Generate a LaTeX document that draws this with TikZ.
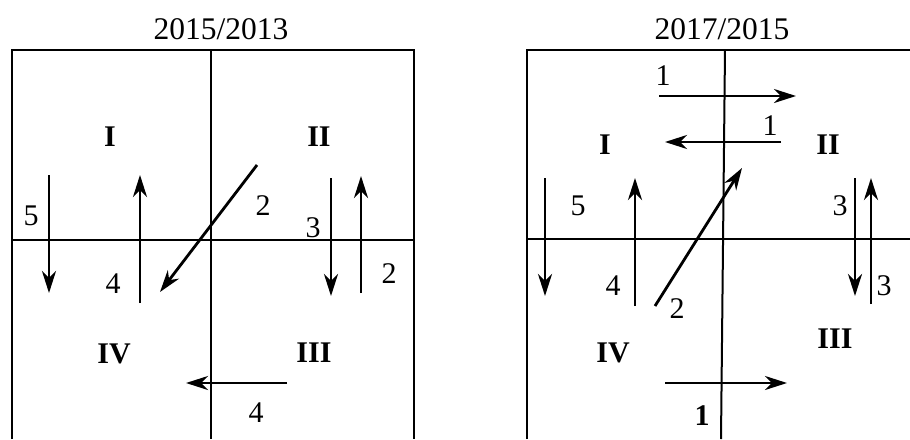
\documentclass[tikz,border=0pt]{standalone}
\usepackage{fontspec}
\setmainfont{Liberation Serif}
\usetikzlibrary{arrows.meta}
\tikzset{
  frame/.style={line width=2pt},
  arr/.style={line width=2.8pt,-{Stealth[length=22pt,width=14pt,inset=7pt]}},
  lbl/.style={inner sep=0pt,font=\fontsize{30}{34}\selectfont},
  quad/.style={inner sep=0pt,font=\fontsize{30}{34}\selectfont\bfseries},
  ttl/.style={inner sep=0pt,font=\fontsize{31.5}{36}\selectfont}
}
\begin{document}
\begin{tikzpicture}[x=1pt,y=-1pt]
\useasboundingbox (0,0) rectangle (910,439);
% ---------- left panel ----------
\node[ttl] (t1) at (221,29) {2015/2013};
\coordinate (L1) at (12,439);
\coordinate (L2) at (12,50);
\coordinate (L3) at (414,50);
\coordinate (L4) at (414,439);
\draw[frame] (L1) -- (L2) -- (L3) -- (L4);
\coordinate (LVt) at (211,50); \coordinate (LVb) at (211,439);
\draw[frame] (LVt) -- (LVb);
\coordinate (LHl) at (12,240); \coordinate (LHr) at (414,240);
\draw[frame] (LHl) -- (LHr);
\node[quad] (q1) at (110,137) {I};
\node[quad] (q2) at (319,137) {II};
\node[quad] (q4) at (114,354) {IV};
\node[quad] (q3) at (314,353) {III};
% arrows
\coordinate (a5s) at (49,175); \coordinate (a5e) at (49,293);
\draw[arr] (a5s) -- (a5e);
\node[lbl] (n5) at (31,216) {5};
\coordinate (a4s) at (140,303); \coordinate (a4e) at (140,175);
\draw[arr] (a4s) -- (a4e);
\node[lbl] (n4) at (113,284) {4};
\coordinate (d2s) at (257,165); \coordinate (d2e) at (160,292);
\draw[arr] (d2s) -- (d2e);
\node[lbl] (n2a) at (263,206) {2};
\coordinate (a3s) at (331,178); \coordinate (a3e) at (331,296);
\draw[arr] (a3s) -- (a3e);
\node[lbl] (n3) at (313,228) {3};
\coordinate (b2s) at (361,293); \coordinate (b2e) at (361,176);
\draw[arr] (b2s) -- (b2e);
\node[lbl] (n2b) at (389,274) {2};
\coordinate (h4s) at (287,383); \coordinate (h4e) at (186,383);
\draw[arr] (h4s) -- (h4e);
\node[lbl] (n4b) at (256,413) {4};
% ---------- right panel ----------
\node[ttl] (t2) at (722,29) {2017/2015};
\coordinate (R1) at (527,439);
\coordinate (R2) at (527,50);
\coordinate (R3) at (910,50);
\draw[frame] (R1) -- (R2) -- (R3);
\coordinate (RVt) at (725,50); \coordinate (RVb) at (721,439);
\draw[frame] (RVt) -- (RVb);
\coordinate (RHl) at (527,239); \coordinate (RHr) at (910,239);
\draw[frame] (RHl) -- (RHr);
\node[quad] (r1) at (605,145) {I};
\node[quad] (r2) at (828,145) {II};
\node[quad] (r4) at (613,353) {IV};
\node[quad] (r3) at (835,339) {III};
\node[lbl] (m1a) at (663,76) {1};
\coordinate (h1s) at (659,96); \coordinate (h1e) at (796,96);
\draw[arr] (h1s) -- (h1e);
\node[lbl] (m1b) at (770,126) {1};
\coordinate (g1s) at (781,142); \coordinate (g1e) at (665,142);
\draw[arr] (g1s) -- (g1e);
\coordinate (c5s) at (545,178); \coordinate (c5e) at (545,296);
\draw[arr] (c5s) -- (c5e);
\node[lbl] (m5) at (578,206) {5};
\coordinate (c4s) at (635,306); \coordinate (c4e) at (635,178);
\draw[arr] (c4s) -- (c4e);
\node[lbl] (m4) at (613,286) {4};
\coordinate (e2s) at (655,306); \coordinate (e2e) at (742,168);
\draw[arr] (e2s) -- (e2e);
\node[lbl] (m2) at (677,309) {2};
\coordinate (c3s) at (855,178); \coordinate (c3e) at (855,296);
\draw[arr] (c3s) -- (c3e);
\node[lbl] (m3a) at (840,206) {3};
\coordinate (d3s) at (871,304); \coordinate (d3e) at (871,178);
\draw[arr] (d3s) -- (d3e);
\node[lbl] (m3b) at (884,286) {3};
\coordinate (k1s) at (665,383); \coordinate (k1e) at (787,383);
\draw[arr] (k1s) -- (k1e);
\node[quad] (m1c) at (702,416) {1};
\end{tikzpicture}
\end{document}
